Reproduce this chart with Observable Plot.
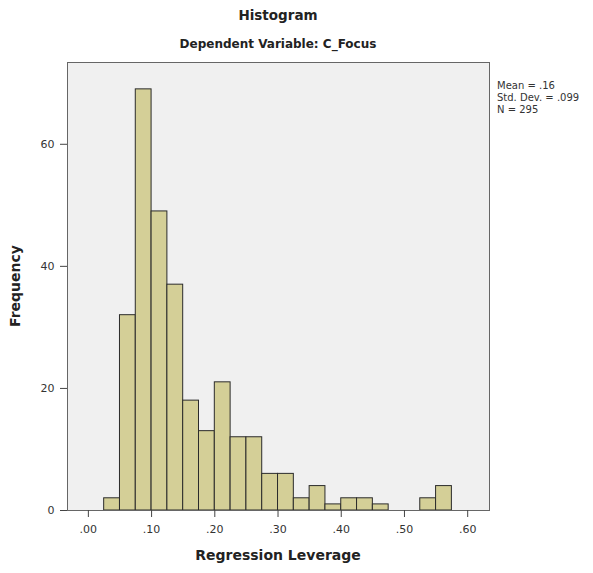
<!DOCTYPE html>
<html>
<head>
<meta charset="utf-8">
<script src="https://cdn.jsdelivr.net/npm/d3@7"></script>
<script src="https://cdn.jsdelivr.net/npm/@observablehq/plot@0.6"></script>
<style>
  html, body { margin: 0; padding: 0; background: #fff; }
  #chart { width: 593px; height: 573px; }
</style>
</head>
<body>
<div id="chart"></div>
<script>
// Histogram bins (lower edge) and frequencies
const binLo = [0.025, 0.05, 0.075, 0.1, 0.125, 0.15, 0.175, 0.2, 0.225, 0.25, 0.275, 0.3, 0.325, 0.35, 0.375, 0.4, 0.425, 0.45, 0.525, 0.55];
const counts = [2, 32, 69, 49, 37, 18, 13, 21, 12, 12, 6, 6, 2, 4, 1, 2, 2, 1, 2, 4];
const binWidth = 0.025;
const xTicks = [0, 0.1, 0.2, 0.3, 0.4, 0.5, 0.6];
const yTicks = [0, 20, 40, 60];
const statsLines = ["Mean = .16", "Std. Dev. = .099", "N = 295"];
const titleText = "Histogram";
const subtitleText = "Dependent Variable: C_Focus";
const xLabel = "Regression Leverage";
const yLabel = "Frequency";

const bins = binLo.map((lo, i) => ({x1: lo, x2: lo + binWidth, y: counts[i]}));
const fmt = v => d3.format(".2f")(v).replace(/^0/, "");

const W = 593, H = 573;
const mL = 67, mR = 104, mT = 62, mB = 63;

const chart = Plot.plot({
  width: W,
  height: H,
  marginLeft: mL,
  marginRight: mR,
  marginTop: mT,
  marginBottom: mB,
  style: {background: "#fff", fontFamily: "DejaVu Sans, Verdana, sans-serif", fontSize: "11px", color: "#333"},
  x: {domain: [-0.033, 0.6345], ticks: xTicks, tickFormat: fmt, label: null},
  y: {domain: [0, 73.4], ticks: yTicks, label: null},
  marks: [
    Plot.frame({fill: "#f0f0f0", stroke: null}),
    Plot.rectY(bins, {x1: "x1", x2: "x2", y: "y", fill: "#d4cf97", stroke: "#2b2b2b", strokeWidth: 1, inset: 0}),
    Plot.frame({stroke: "#666", strokeWidth: 1}),
    Plot.axisX({ticks: xTicks, tickFormat: fmt, tickSize: 7, tickPadding: 8, stroke: "#444", fill: "#333", fontSize: 11, label: null}),
    Plot.axisY({ticks: yTicks, tickSize: 7, tickPadding: 6, stroke: "#444", fill: "#333", fontSize: 11, label: null})
  ]
});

const svg = d3.select(chart);
const cx = mL + (W - mL - mR) / 2;
const ff = "DejaVu Sans, Verdana, sans-serif";
svg.append("text").attr("x", cx).attr("y", 20).attr("text-anchor", "middle")
  .attr("font-family", ff).attr("font-weight", "bold").attr("font-size", 13.5).attr("fill", "#222").text(titleText);
svg.append("text").attr("x", cx).attr("y", 48).attr("text-anchor", "middle")
  .attr("font-family", ff).attr("font-weight", "bold").attr("font-size", 12).attr("fill", "#222").text(subtitleText);
svg.append("text").attr("x", cx).attr("y", 560).attr("text-anchor", "middle")
  .attr("font-family", ff).attr("font-weight", "bold").attr("font-size", 14).attr("fill", "#222").text(xLabel);
svg.append("text").attr("transform", `translate(20,${(mT + H - mB) / 2}) rotate(-90)`).attr("text-anchor", "middle")
  .attr("font-family", ff).attr("font-weight", "bold").attr("font-size", 14).attr("fill", "#222").text(yLabel);
const st = svg.append("text").attr("font-family", ff).attr("font-size", 10).attr("fill", "#333").attr("text-anchor", "start");
statsLines.forEach((s, i) => st.append("tspan").attr("x", W - mR + 8).attr("y", 89 + i * 12).attr("text-anchor", "start").text(s));

document.getElementById("chart").appendChild(chart);
</script>
</body>
</html>
